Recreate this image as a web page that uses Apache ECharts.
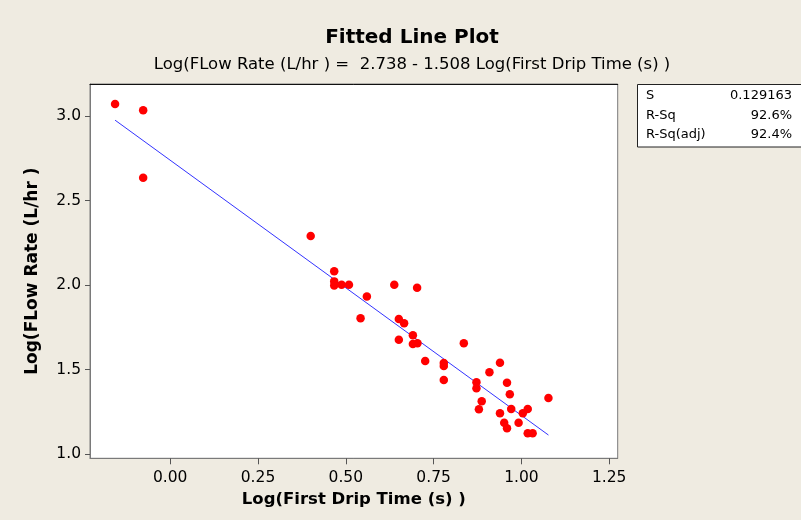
<!DOCTYPE html>
<html>
<head>
<meta charset="utf-8">
<script src="https://cdn.jsdelivr.net/npm/echarts@6/dist/echarts.min.js"></script>
<style>
  html, body { margin: 0; padding: 0; background: #EFEBE1; }
  #chart { width: 801px; height: 520px; }
</style>
</head>
<body>
<div id="chart"></div>
<script>
// Observations: Log(First Drip Time (s)) and Log(FLow Rate (L/hr))
const logDripTime = [
  -0.157, -0.077, -0.077, 0.400, 0.467, 0.467, 0.467, 0.488, 0.509, 0.638,
  0.703, 0.560, 0.542, 0.651, 0.666, 0.651, 0.691, 0.691, 0.704, 0.726,
  0.779, 0.779, 0.779, 0.836, 0.939, 0.909, 0.872, 0.872, 0.887, 0.879,
  0.959, 0.967, 0.971, 0.939, 0.951, 0.959, 0.992, 1.004, 1.018, 1.018,
  1.032, 1.077
];
const logFlowRate = [
  3.070, 3.033, 2.635, 2.290, 2.082, 2.022, 1.997, 2.002, 2.002, 2.002,
  1.985, 1.932, 1.804, 1.800, 1.774, 1.677, 1.703, 1.652, 1.656, 1.551,
  1.540, 1.522, 1.439, 1.656, 1.541, 1.485, 1.426, 1.390, 1.313, 1.266,
  1.423, 1.355, 1.268, 1.242, 1.187, 1.154, 1.187, 1.242, 1.268, 1.124,
  1.124, 1.333
];

// Regression results
const intercept = 2.738;
const slope = -1.508;
const statNames = ['S', 'R-Sq', 'R-Sq(adj)'];
const statValues = ['0.129163', '92.6%', '92.4%'];

// Axis ticks
const xTicks = [0.00, 0.25, 0.50, 0.75, 1.00, 1.25];
const yTicks = [1.0, 1.5, 2.0, 2.5, 3.0];

const points = logDripTime.map((x, i) => [x, logFlowRate[i]]);
const xMin = Math.min(...logDripTime);
const xMax = Math.max(...logDripTime);
const fitLine = [[xMin, intercept + slope * xMin], [xMax, intercept + slope * xMax]];

const font = 'DejaVu Sans';
const chart = echarts.init(document.getElementById('chart'), null, { renderer: 'canvas' });

// Summary statistics box rows
const statRows = [];
statNames.forEach((name, i) => {
  statRows.push({
    type: 'text', left: 646, top: 89.5 + i * 19.5,
    style: { text: name, font: '13px "' + font + '"', fill: '#000' }
  });
  statRows.push({
    type: 'text', right: 9, top: 89.5 + i * 19.5,
    style: { text: statValues[i], font: '13px "' + font + '"', fill: '#000', textAlign: 'right' }
  });
});

chart.setOption({
  backgroundColor: '#EFEBE1',
  animation: false,
  title: [
    {
      text: 'Fitted Line Plot', left: 407, top: 23, textAlign: 'center',
      textStyle: { fontFamily: font, fontWeight: 'bold', fontSize: 20, color: '#000' }
    },
    {
      text: 'Log(FLow Rate (L/hr ) =  2.738 - 1.508 Log(First Drip Time (s) )',
      left: 407, top: 51, textAlign: 'center',
      textStyle: { fontFamily: font, fontWeight: 'normal', fontSize: 16.5, color: '#000' }
    }
  ],
  grid: {
    left: 90, top: 84, right: 183.3, bottom: 61.7,
    show: true, backgroundColor: '#FFFFFF', borderColor: '#7a7a7a', borderWidth: 1
  },
  xAxis: [
    {
      type: 'value', min: -0.2284, max: 1.2742,
      name: 'Log(First Drip Time (s) )', nameLocation: 'middle', nameGap: 33,
      nameTextStyle: { fontFamily: font, fontWeight: 'bold', fontSize: 16.5, color: '#000' },
      axisLine: { show: true, onZero: false, lineStyle: { color: '#7a7a7a' } },
      axisTick: { show: true, length: 6, customValues: xTicks, lineStyle: { color: '#555' } },
      axisLabel: {
        customValues: xTicks, margin: 12,
        fontFamily: font, fontSize: 15.5, color: '#000',
        formatter: v => v.toFixed(2)
      },
      splitLine: { show: false }
    },
    {
      type: 'value', position: 'top', min: -0.2284, max: 1.2742,
      axisLine: { show: true, lineStyle: { color: '#111' } },
      axisTick: { show: false }, axisLabel: { show: false }, splitLine: { show: false }
    }
  ],
  yAxis: {
    type: 'value', min: 0.9764, max: 3.1885,
    name: 'Log(FLow Rate (L/hr )', nameLocation: 'middle', nameGap: 49, nameRotate: 90,
    nameTextStyle: { fontFamily: font, fontWeight: 'bold', fontSize: 17, color: '#000' },
    axisLine: { show: true, onZero: false, lineStyle: { color: '#7a7a7a' } },
    axisTick: { show: true, length: 5, customValues: yTicks, lineStyle: { color: '#555' } },
    axisLabel: {
      customValues: yTicks, margin: 9,
      fontFamily: font, fontSize: 15.5, color: '#000',
      formatter: v => v.toFixed(1)
    },
    splitLine: { show: false }
  },
  graphic: [
    {
      type: 'rect', left: 637, top: 84,
      shape: { width: 170, height: 62.5 },
      style: { fill: '#FFFFFF', stroke: '#222', lineWidth: 1 }
    }
  ].concat(statRows),
  series: [
    {
      type: 'line', data: fitLine, symbol: 'none', silent: true,
      lineStyle: { color: '#3333FF', width: 1 }, z: 2
    },
    {
      type: 'scatter', data: points, symbol: 'circle', symbolSize: 8.5,
      itemStyle: { color: '#FF0000', opacity: 1 }, z: 3
    }
  ]
});
</script>
</body>
</html>
